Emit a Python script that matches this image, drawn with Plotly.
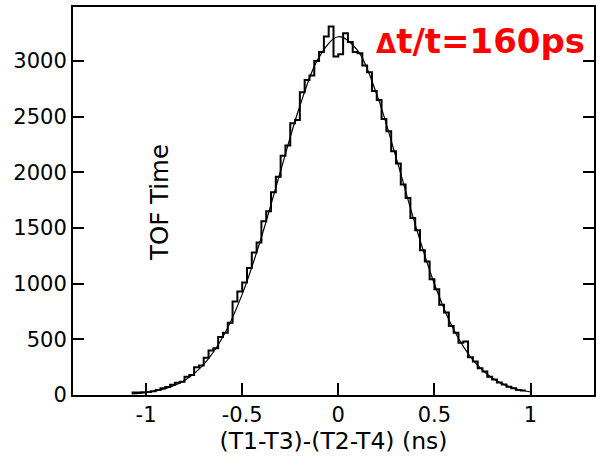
import plotly.graph_objects as go

# Histogram (bin start, width, counts)
bin_start = -1.075
bin_width = 0.025
counts = [22, 22, 24, 28, 34, 45, 60, 72, 92, 110, 118, 165, 180, 250, 265, 335,
          400, 420, 520, 560, 650, 840, 930, 1010, 1140, 1280, 1370, 1560, 1650,
          1820, 1960, 2150, 2240, 2440, 2470, 2720, 2830, 2870, 3000, 3080, 3220,
          3310, 3040, 3060, 3250, 3170, 3080, 3070, 2960, 2900, 2730, 2650, 2480,
          2370, 2190, 2080, 1890, 1770, 1590, 1480, 1300, 1200, 1040, 950, 810,
          740, 620, 560, 470, 480, 340, 300, 240, 210, 165, 140, 112, 95, 74, 60,
          46, 40]

# Gaussian fit curve
fit_x = [-1.075, -1.0, -0.9, -0.8, -0.7, -0.6, -0.5, -0.4, -0.3, -0.2, -0.1, 0.0,
         0.1, 0.2, 0.3, 0.4, 0.5, 0.6, 0.7, 0.8, 0.9, 1.0]
fit_y = [11, 22, 57, 131, 275, 523, 904, 1417, 2014, 2596, 3035, 3218,
         3095, 2700, 2136, 1532, 997, 588, 315, 153, 67, 27]

x_ticks = [-1, -0.5, 0, 0.5, 1]
x_tick_labels = ["-1", "-0.5", "0", "0.5", "1"]
y_ticks = [0, 500, 1000, 1500, 2000, 2500, 3000]

edges = [bin_start + i * bin_width for i in range(len(counts) + 1)]
hist_y = counts + [counts[-1]]

fig = go.Figure()
fig.add_trace(go.Scatter(x=edges, y=hist_y, mode="lines", line=dict(shape="hv", color="black", width=2),
                         showlegend=False, hoverinfo="skip"))
fig.add_trace(go.Scatter(x=fit_x, y=fit_y, mode="lines", line=dict(shape="spline", color="black", width=1.2),
                         showlegend=False, hoverinfo="skip"))

font_family = "DejaVu Sans, sans-serif"
fig.update_layout(
    width=596, height=460,
    margin=dict(l=73, r=2, t=7, b=65, autoexpand=False),
    paper_bgcolor="white", plot_bgcolor="white",
    font=dict(family=font_family, size=21, color="black"),
    xaxis=dict(range=[-1.38, 1.33], tickvals=x_ticks, ticktext=x_tick_labels,
               ticks="inside", ticklen=12, tickwidth=2, tickcolor="black",
               showline=True, linecolor="black", linewidth=2, mirror=True,
               showgrid=False, zeroline=False, automargin=False,
               title=dict(text="(T1-T3)-(T2-T4) (ns)", standoff=2,
                          font=dict(size=23.5, family=font_family)),
               tickfont=dict(size=21, family=font_family)),
    yaxis=dict(range=[0, 3485], tickvals=y_ticks,
               ticks="inside", ticklen=11, tickwidth=2, tickcolor="black",
               showline=True, linecolor="black", linewidth=2, mirror="ticks",
               showgrid=False, zeroline=False, automargin=False,
               tickfont=dict(size=21, family=font_family)),
    annotations=[
        dict(x=-0.927, y=1725, xref="x", yref="y", text="TOF Time", textangle=-90,
             showarrow=False, font=dict(size=24.5, family=font_family, color="black")),
        dict(x=0.9866, y=0.912, xref="paper", yref="paper", xanchor="right", yanchor="middle",
             text="<b><span style='font-size:26px'>Δ</span>t/t=160ps</b>",
             showarrow=False,
             font=dict(size=34, family="DejaVu Sans, sans-serif", color="#ff0000")),
    ],
)

fig.write_html("out.html", config={"displayModeBar": False},
               post_script="document.body.style.margin='0';")
